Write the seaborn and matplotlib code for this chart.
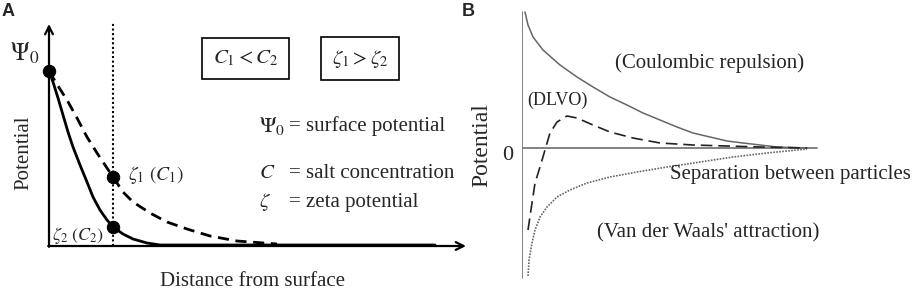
import numpy as np
import pandas as pd
import matplotlib
matplotlib.use("Agg")
import matplotlib.pyplot as plt
import seaborn as sns

# ---- data ----
# panel A: potential vs distance from surface
a_solid_x = [0, 4, 9, 14, 19, 24, 31, 38, 44, 51, 58, 64, 74, 84, 98, 111, 124, 386]
a_solid_y = [175, 164, 148, 131, 114, 99, 81, 64, 49, 36, 26, 19, 12, 7, 3, 1, 1, 1]
a_dash_x = [0, 9, 18, 28, 38, 48, 58, 64, 74, 84, 101, 118, 138, 161, 188, 228]
a_dash_y = [175, 160, 146, 128, 109, 93, 78, 69, 54, 44, 33, 24, 17, 10, 5, 2]
a_points_x = [0, 64, 64]
a_points_y = [175, 69, 19]
a_shear_x = 64

# panel B: DLVO curves
b_rep_x = [3, 6, 11, 21, 38, 55, 71, 88, 105, 121, 138, 155, 171, 188, 205, 221, 238, 255, 285]
b_rep_y = [136, 123, 111, 98, 83, 71, 61, 51, 43, 35, 28, 21, 15, 11, 7, 5, 3, 1, 0]
b_att_x = [6, 7, 10, 13, 18, 25, 35, 48, 65, 88, 115, 145, 178, 211, 245, 285]
b_att_y = [-128, -112, -95, -82, -69, -59, -49, -42, -35, -29, -24, -19, -14, -9, -5, -1]
b_dlvo_x = [6, 10, 13, 18, 23, 28, 35, 45, 55, 71, 88, 111, 138, 171, 205, 238, 285]
b_dlvo_y = [-82, -55, -35, -19, -2, 15, 26, 32, 30, 23, 16, 10, 5, 3, 2, 1, 0]

sns.set_style("white")
plt.rcParams["font.family"] = ["Liberation Serif", "DejaVu Serif"]
plt.rcParams["mathtext.fontset"] = "stix"

W, H = 913, 291
fig = plt.figure(figsize=(W / 100, H / 100), dpi=100)

# ---------------- panel A ----------------
axA = fig.add_axes([49 / W, 0, 421 / W, 1])
axA.set_xlim(0, 421)
axA.set_ylim(-45, 246)
axA.axis("off")

sns.lineplot(x=a_solid_x, y=a_solid_y, ax=axA, color="black", lw=2.0,
             sort=False, estimator=None)
sns.lineplot(x=a_dash_x, y=a_dash_y, ax=axA, color="black", lw=2.0,
             sort=False, estimator=None, linestyle=(0, (4, 2.4)))
axA.plot([a_shear_x, a_shear_x], [0, 224], color="black", lw=1.5, ls=(0, (1, 1.2)))
sns.scatterplot(x=a_points_x, y=a_points_y, ax=axA, color="black", s=80,
                edgecolor="black", zorder=5, clip_on=False)

# axes with arrows
axA.annotate("", xy=(0, 222), xytext=(0, -0.8),
             arrowprops=dict(arrowstyle="->", lw=1.6, color="black",
                             mutation_scale=14, shrinkA=0, shrinkB=0))
axA.annotate("", xy=(417, 0), xytext=(-0.8, 0),
             arrowprops=dict(arrowstyle="->", lw=1.6, color="black",
                             mutation_scale=14, shrinkA=0, shrinkB=0))

fs = 15
axA.text(-39, 193, r"$\Psi_0$", fontsize=18, ha="left", va="center")
axA.text(-25, 93, "Potential", fontsize=fs, rotation=90, ha="center", va="center")
axA.text(203, -36, "Distance from surface", fontsize=fs, ha="center", va="center")
box = dict(boxstyle="square,pad=0.5", fc="white", ec="black", lw=1.2)
axA.text(196.5, 187.5, r"$C_1 < C_2$", fontsize=fs, ha="center", va="center", bbox=box)
axA.text(311, 187.5, r"$\zeta_1 > \zeta_2$", fontsize=fs, ha="center", va="center", bbox=box)
axA.text(210, 120, r"$\Psi_0$", fontsize=16, ha="left", va="center")
axA.text(240, 120, "= surface potential", fontsize=fs, ha="left", va="center")
axA.text(210, 73, r"$C$", fontsize=fs, ha="left", va="center")
axA.text(240, 73, "= salt concentration", fontsize=fs, ha="left", va="center")
axA.text(210, 44, r"$\zeta$", fontsize=fs, ha="left", va="center")
axA.text(240, 44, "= zeta potential", fontsize=fs, ha="left", va="center")
axA.text(79, 71, r"$\zeta_1\ (C_1)$", fontsize=14, ha="left", va="center")
axA.text(3, 11, r"$\zeta_2\ (C_2)$", fontsize=13, ha="left", va="center")

# ---------------- panel B ----------------
axB = fig.add_axes([522 / W, 0, 391 / W, 1])
axB.set_xlim(0, 391)
axB.set_ylim(-143, 148)
axB.axis("off")

axB.plot([0, 0], [136, -130], color="#777777", lw=1.3)
axB.plot([0, 295], [0, 0], color="#777777", lw=1.3)
sns.lineplot(x=b_rep_x, y=b_rep_y, ax=axB, color="#666666", lw=1.1,
             sort=False, estimator=None)
sns.lineplot(x=b_att_x, y=b_att_y, ax=axB, color="#666666", lw=1.2,
             sort=False, estimator=None, linestyle=(0, (1, 0.8)))
sns.lineplot(x=b_dlvo_x, y=b_dlvo_y, ax=axB, color="#222222", lw=1.2,
             sort=False, estimator=None, linestyle=(0, (7, 3.5)))

axB.text(-14, -7, "0", fontsize=16, ha="center", va="center")
axB.text(-40, 3, "Potential", fontsize=17, rotation=90, ha="center", va="center")
axB.text(188, 85, "(Coulombic repulsion)", fontsize=fs, ha="center", va="center")
axB.text(35, 48, "(DLVO)", fontsize=13, ha="center", va="center")
axB.text(148, -27, "Separation between particles", fontsize=fs, ha="left", va="center")
axB.text(186, -85, "(Van der Waals' attraction)", fontsize=fs, ha="center", va="center")

# panel letters
fig.text(2 / W, 1 - 12 / H, "A", fontsize=13, fontweight="bold",
         family="Liberation Sans", ha="left", va="center")
fig.text(462 / W, 1 - 12 / H, "B", fontsize=13, fontweight="bold",
         family="Liberation Sans", ha="left", va="center")

fig.savefig("out.png", dpi=100)
